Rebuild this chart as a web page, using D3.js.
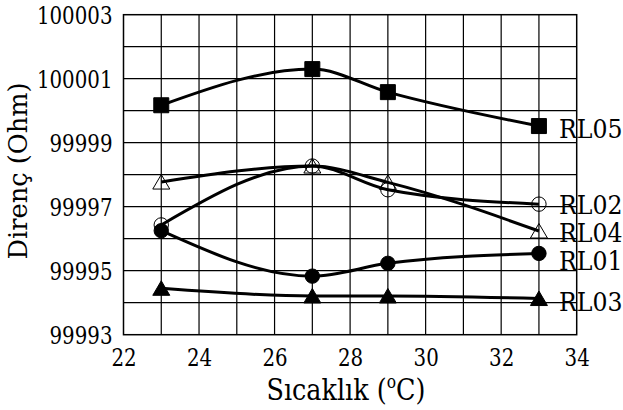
<!DOCTYPE html>
<html>
<head>
<meta charset="utf-8">
<script src="https://cdn.jsdelivr.net/npm/d3@7"></script>
<style>
  html, body { margin: 0; padding: 0; background: #fff; }
  svg text { font-family: "DejaVu Serif", serif; fill: #000; }
</style>
</head>
<body>
<svg id="chart" width="623" height="410"></svg>
<script>
// ---- data ----
const temps = [23, 27, 29, 33];
const rl01 = [99996.25, 99994.83, 99995.23, 99995.54];
const rl02 = [99996.43, 99998.27, 99997.53, 99997.08];
const rl03 = [99994.45, 99994.21, 99994.21, 99994.13];
const rl04 = [99997.77, 99998.27, 99997.76, 99996.24];
const rl05 = [100000.17, 100001.3, 100000.58, 99999.52];
const seriesNames = ["RL01", "RL02", "RL03", "RL04", "RL05"];
const xTicks = [22, 24, 26, 28, 30, 32, 34];
const yTicks = [99993, 99995, 99997, 99999, 100001, 100003];

const svg = d3.select("#chart");
const L = 123.5, R = 576.7, T = 14.7, B = 334.7;
const x = d3.scaleLinear().domain([22, 34]).range([L, R]);
const y = d3.scaleLinear().domain([99993, 100003]).range([B, T]);

// horizontally squeeze a text element (DejaVu Serif is wider than the original Times)
function squeeze(node, target) {
  const w = node.getComputedTextLength();
  const ax = +(node.getAttribute("x") || 0);
  const prev = node.getAttribute("transform") || "";
  node.setAttribute("transform", `${prev} translate(${ax},0) scale(${target / w},1) translate(${-ax},0)`);
}

// grid
const g = svg.append("g");
g.selectAll("line.vx").data(d3.range(23, 34)).join("line")
  .attr("x1", d => x(d)).attr("x2", d => x(d)).attr("y1", T).attr("y2", B)
  .attr("stroke", "#000").attr("stroke-width", 1.2);
g.selectAll("line.hy").data(d3.range(99994, 100003)).join("line")
  .attr("y1", d => y(d)).attr("y2", d => y(d)).attr("x1", L).attr("x2", R)
  .attr("stroke", "#000").attr("stroke-width", 1.2);
svg.append("rect").attr("x", L).attr("y", T).attr("width", R - L).attr("height", B - T)
  .attr("fill", "none").attr("stroke", "#000").attr("stroke-width", 1.5);

// axes
const xa = svg.append("g").attr("transform", `translate(0,${B})`)
  .call(d3.axisBottom(x).tickValues(xTicks).tickSize(0).tickPadding(0));
xa.select(".domain").remove();
xa.attr("font-family", null).attr("font-size", null);
xa.selectAll("text").style("font-size", "24px").attr("dy", null).attr("y", 31)
  .each(function () { squeeze(this, this.textContent.length * 12.6); });

const ya = svg.append("g").attr("transform", `translate(${L - 11},0)`)
  .call(d3.axisLeft(y).tickValues(yTicks).tickSize(0).tickPadding(0).tickFormat(d3.format("d")));
ya.select(".domain").remove();
ya.attr("font-family", null).attr("font-size", null);
ya.selectAll("text").style("font-size", "24px").attr("dy", 9).attr("x", 0)
  .each(function () { squeeze(this, this.textContent.length * 12.6); });

// axis titles
const xt = svg.append("text").attr("x", 346).attr("y", 400).attr("text-anchor", "middle")
  .style("font-size", "29.5px");
xt.append("tspan").text("Sıcaklık (");
xt.append("tspan").text("o").style("font-size", "18px").attr("dy", -12);
xt.append("tspan").text("C)").attr("dy", 12);
{
  const n = xt.node(), w = n.getBBox().width;
  n.setAttribute("transform", `translate(346,0) scale(${159 / w},1) translate(-346,0)`);
}

const yt = svg.append("text").attr("transform", "translate(27,171) rotate(-90)")
  .attr("text-anchor", "middle").style("font-size", "26.5px").text("Direnç (Ohm)");
squeeze(yt.node(), 177);

// series
const allSeries = [rl01, rl02, rl03, rl04, rl05];
const markers = ["circleFilled", "circleOpen", "triFilled", "triOpen", "square"];
const labelDy = [17, 10, 12, 10.5, 12];

const line = d3.line().x((d, i) => x(temps[i])).y(d => y(d)).curve(d3.curveMonotoneX);

function markerPath(type, cx, cy) {
  const p = d3.path();
  if (type === "square") { p.rect(cx - 7.5, cy - 7.5, 15, 15); }
  else if (type.startsWith("circle")) { p.moveTo(cx + 7.2, cy); p.arc(cx, cy, 7.2, 0, 2 * Math.PI); }
  else { p.moveTo(cx, cy - 7.5); p.lineTo(cx + 8.5, cy + 7); p.lineTo(cx - 8.5, cy + 7); p.closePath(); }
  return p.toString();
}

allSeries.forEach((vals) => {
  svg.append("path").attr("d", line(vals)).attr("fill", "none")
    .attr("stroke", "#000").attr("stroke-width", 3).attr("stroke-linejoin", "round");
});
allSeries.forEach((vals, si) => {
  const type = markers[si];
  const filled = type === "square" || type.endsWith("Filled");
  svg.append("g").selectAll("path").data(vals).join("path")
    .attr("d", (d, i) => markerPath(type, x(temps[i]), y(d)))
    .attr("fill", filled ? "#000" : "none")
    .attr("stroke", "#000").attr("stroke-width", 1);
  const t = svg.append("text").attr("x", 559).attr("y", y(vals[vals.length - 1]) + labelDy[si])
    .style("font-size", "26.5px").text(seriesNames[si]);
  squeeze(t.node(), 63.5);
});
</script>
</body>
</html>
